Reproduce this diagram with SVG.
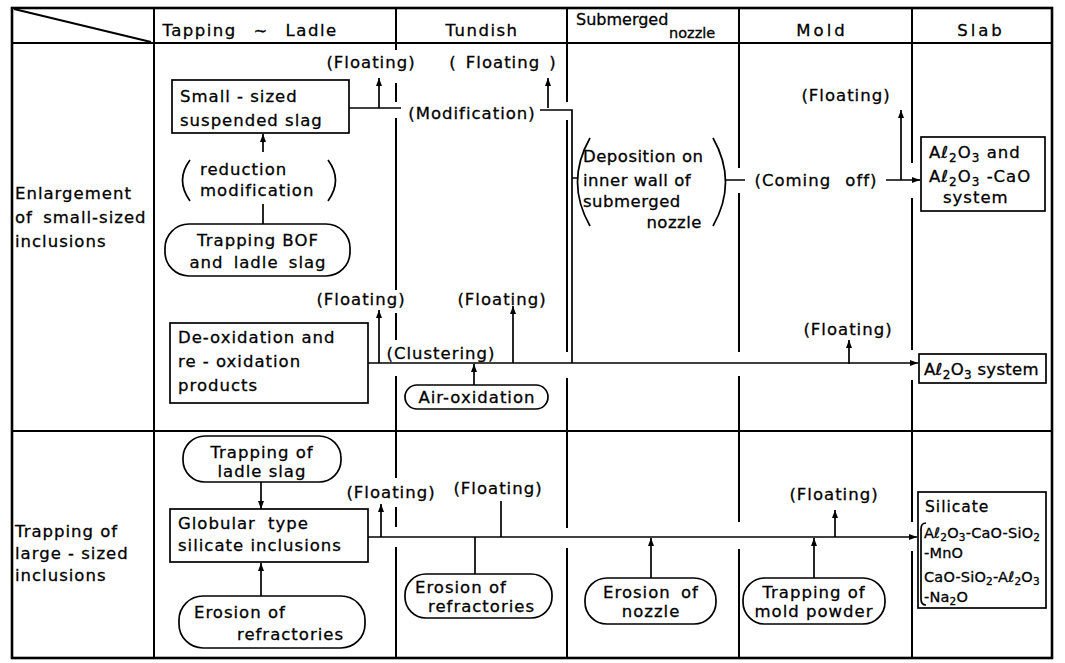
<svg xmlns="http://www.w3.org/2000/svg" width="1065" height="663" viewBox="0 0 1065 663">
<style>
text{font-family:"DejaVu Sans","Liberation Sans",sans-serif;fill:#000;stroke:#000;stroke-width:0.3px}
.t{font-size:16.5px;letter-spacing:1px}
.h{font-size:16.5px;letter-spacing:1.5px}
.s{font-size:14.5px;letter-spacing:0.2px}
.m{text-anchor:middle}
.ln{stroke:#000;stroke-width:1.7;fill:none}
.dv{stroke:#000;stroke-width:2;fill:none}
.fr{stroke:#000;stroke-width:2.6;fill:none}
.bx{fill:#fff;stroke:#000;stroke-width:1.7}
</style>
<defs>
<marker id="ah" viewBox="0 0 8 6" refX="8" refY="3" markerWidth="8" markerHeight="6" markerUnits="userSpaceOnUse" orient="auto"><path d="M0 0 L8 3 L0 6 z" fill="#000"/></marker>
</defs>
<rect width="1065" height="663" fill="#fff"/>
<g id="table">
<rect class="fr" x="12" y="8" width="1040" height="650"/>
<path class="dv" d="M12 43 H1052 M12 431 H1052 M154 8 V658 M14 9 L151 42"/>
<path class="dv" d="M396 8 V43 M567 8 V43 M739 8 V43 M912 8 V43"/>
<path class="dv" d="M396 43 V50 M396 83 V102 M396 118 V290 M396 313 V340 M396 376 V478 M396 507 V527 M396 547 V658"/>
<path class="dv" d="M567 43 V102 M567 120 V352 M567 378 V528 M567 548 V658"/>
<path class="dv" d="M739 43 V168 M739 193 V352 M739 376 V522 M739 549 V658"/>
<path class="dv" d="M912 43 V163 M912 198 V350 M912 380 V522 M912 551 V658"/>
<text class="h" x="250" y="36" text-anchor="middle" word-spacing="10">Tapping ~ Ladle</text>
<text class="h m" x="482" y="36">Tundish</text>
<text style="font-size:16px" x="576" y="25">Submerged</text>
<text style="font-size:14.5px" x="669" y="38">nozzle</text>
<text class="t m" x="822" y="36" style="letter-spacing:3px">Mold</text>
<text class="t m" x="981" y="36" style="letter-spacing:3px">Slab</text>
<text class="t" x="15" y="199">Enlargement</text>
<text class="t" x="15" y="223" word-spacing="4">of small-sized</text>
<text class="t" x="15" y="247">inclusions</text>
<text class="t" x="15" y="537">Trapping of</text>
<text class="t" x="15" y="559">large - sized</text>
<text class="t" x="15" y="581">inclusions</text>
</g>
<g id="connectors">
<path class="ln" d="M349 108 H401"/>
<path class="ln" d="M379 108 V78" marker-end="url(#ah)"/>
<path class="ln" d="M540 110 H572 V363 M572 178 H578"/>
<path class="ln" d="M548 108 V78" marker-end="url(#ah)"/>
<path class="ln" d="M263 152 V134" marker-end="url(#ah)"/>
<path class="ln" d="M263 204 V224"/>
<path class="ln" d="M726 180 H745 M886 180 H912"/>
<path class="ln" d="M912 180 H920" marker-end="url(#ah)"/>
<path class="ln" d="M901 180 V110" marker-end="url(#ah)"/>
<path class="ln" d="M368 363 H918" marker-end="url(#ah)"/>
<path class="ln" d="M379 363 V310" marker-end="url(#ah)"/>
<path class="ln" d="M513 363 V306" marker-end="url(#ah)"/>
<path class="ln" d="M474 385 V364" marker-end="url(#ah)"/>
<path class="ln" d="M849 364 V340" marker-end="url(#ah)"/>
<path class="ln" d="M261 482 V509" marker-end="url(#ah)"/>
<path class="ln" d="M261 596 V563" marker-end="url(#ah)"/>
<path class="ln" d="M368 537 H917" marker-end="url(#ah)"/>
<path class="ln" d="M381 537 V504" marker-end="url(#ah)"/>
<path class="ln" d="M501 537 V501"/>
<path class="ln" d="M475 574 V537"/>
<path class="ln" d="M651 578 V538" marker-end="url(#ah)"/>
<path class="ln" d="M814 578 V538" marker-end="url(#ah)"/>
<path class="ln" d="M835 537 V510" marker-end="url(#ah)"/>
</g>
<g id="labels">
<text class="t m" x="371" y="68">(Floating)</text>
<text class="t m" x="503" y="68" word-spacing="3">( Floating )</text>
<text class="t m" x="472" y="119">(Modification)</text>
<text class="t m" x="846" y="101">(Floating)</text>
<text class="t m" x="816" y="186" word-spacing="8">(Coming off)</text>
<text class="t m" x="361" y="305">(Floating)</text>
<text class="t m" x="502" y="305">(Floating)</text>
<text class="t m" x="441" y="359">(Clustering)</text>
<text class="t m" x="848" y="335">(Floating)</text>
<text class="t m" x="391" y="498">(Floating)</text>
<text class="t m" x="498" y="494">(Floating)</text>
<text class="t m" x="834" y="500">(Floating)</text>
</g>
<g id="small-slag">
<rect class="bx" x="172" y="80" width="177" height="53"/>
<text class="t" x="180" y="102">Small - sized</text>
<text class="t" x="180" y="126">suspended slag</text>
</g>
<g id="reduction">
<path class="ln" d="M190 160 Q175 180 190 201 M328 160 Q343 180 328 201"/>
<text class="t" x="200" y="175">reduction</text>
<text class="t" x="200" y="196">modification</text>
</g>
<g id="trapping-bof">
<rect class="bx" x="165" y="224" width="185" height="52" rx="24"/>
<text class="t m" x="258" y="246">Trapping BOF</text>
<text class="t m" x="258" y="268" word-spacing="4">and ladle slag</text>
</g>
<g id="deposition">
<path class="ln" d="M590 138 Q565 182 590 226 M713 138 Q738 182 713 226"/>
<text class="t" x="583" y="162" style="letter-spacing:0.5px">Deposition on</text>
<text class="t" x="583" y="186" style="letter-spacing:0.5px">inner wall of</text>
<text class="t" x="583" y="207" style="letter-spacing:0.5px">submerged</text>
<text class="t" x="702" y="228" text-anchor="end" style="letter-spacing:0.5px">nozzle</text>
</g>
<g id="al2o3-cao">
<rect class="bx" x="921" y="137" width="124" height="74"/>
<text class="t" x="929" y="158">Aℓ<tspan font-size="12" dy="4">2</tspan><tspan dy="-4">O</tspan><tspan font-size="12" dy="4">3</tspan><tspan dy="-4"> and</tspan></text>
<text class="t" x="929" y="182">Aℓ<tspan font-size="12" dy="4">2</tspan><tspan dy="-4">O</tspan><tspan font-size="12" dy="4">3</tspan><tspan dy="-4"> -CaO</tspan></text>
<text class="t" x="943" y="203">system</text>
</g>
<g id="deox">
<rect class="bx" x="170" y="323" width="198" height="80"/>
<text class="t" x="178" y="343">De-oxidation and</text>
<text class="t" x="178" y="367">re - oxidation</text>
<text class="t" x="178" y="391">products</text>
</g>
<g id="air-oxidation">
<rect class="bx" x="405" y="385" width="143" height="24" rx="12"/>
<text class="t m" x="477" y="403">Air-oxidation</text>
</g>
<g id="al2o3-system">
<rect class="bx" x="919" y="354" width="127" height="29"/>
<text class="t" x="924" y="375" style="letter-spacing:0.3px">Aℓ<tspan font-size="12" dy="4">2</tspan><tspan dy="-4">O</tspan><tspan font-size="12" dy="4">3</tspan><tspan dy="-4"> system</tspan></text>
</g>
<g id="trapping-ladle">
<rect class="bx" x="183" y="436" width="158" height="46" rx="22"/>
<text class="t m" x="262" y="458">Trapping of</text>
<text class="t m" x="262" y="477">ladle slag</text>
</g>
<g id="globular">
<rect class="bx" x="170" y="509" width="198" height="53"/>
<text class="t" x="178" y="529" word-spacing="6">Globular type</text>
<text class="t" x="178" y="551">silicate inclusions</text>
</g>
<g id="erosion-ladle">
<rect class="bx" x="179" y="596" width="186" height="52" rx="24"/>
<text class="t" x="194" y="618">Erosion of</text>
<text class="t" x="344" y="640" text-anchor="end">refractories</text>
</g>
<g id="erosion-tundish">
<rect class="bx" x="405" y="574" width="147" height="44" rx="21"/>
<text class="t" x="415" y="593">Erosion of</text>
<text class="t" x="428" y="612">refractories</text>
</g>
<g id="erosion-nozzle">
<rect class="bx" x="585" y="578" width="131" height="46" rx="22"/>
<text class="t m" x="651" y="598" word-spacing="4">Erosion of</text>
<text class="t m" x="651" y="617">nozzle</text>
</g>
<g id="mold-powder">
<rect class="bx" x="743" y="578" width="142" height="46" rx="22"/>
<text class="t m" x="814" y="598">Trapping of</text>
<text class="t m" x="814" y="617">mold powder</text>
</g>
<g id="silicate">
<rect class="bx" x="918" y="492" width="128" height="116"/>
<text class="t" x="925" y="512" style="font-size:15.5px">Silicate</text>
<path class="ln" d="M926 523 Q921 523 921 529 V599 Q921 605 926 605"/>
<text class="s" x="924" y="538">Aℓ<tspan font-size="10.5" dy="3">2</tspan><tspan dy="-3">O</tspan><tspan font-size="10.5" dy="3">3</tspan><tspan dy="-3">-CaO-SiO</tspan><tspan font-size="10.5" dy="3">2</tspan></text>
<text class="s" x="924" y="558">-MnO</text>
<text class="s" x="924" y="582">CaO-SiO<tspan font-size="10.5" dy="3">2</tspan><tspan dy="-3">-Aℓ</tspan><tspan font-size="10.5" dy="3">2</tspan><tspan dy="-3">O</tspan><tspan font-size="10.5" dy="3">3</tspan></text>
<text class="s" x="924" y="602">-Na<tspan font-size="10.5" dy="3">2</tspan><tspan dy="-3">O</tspan></text>
</g>
</svg>
